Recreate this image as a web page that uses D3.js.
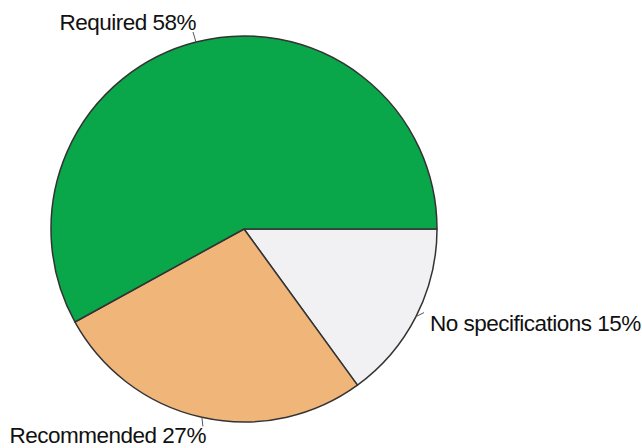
<!DOCTYPE html>
<html>
<head>
<meta charset="utf-8">
<script src="https://cdn.jsdelivr.net/npm/d3@7"></script>
<style>
  body { margin: 0; background: #fff; }
  svg text { font-family: "Liberation Sans", Arial, sans-serif; fill: #111; }
</style>
</head>
<body>
<svg id="chart" width="642" height="448"></svg>
<script>
// data (drawn clockwise starting from 3 o'clock)
var categories = ["No specifications", "Recommended", "Required"];
var shares = [15, 27, 58];
var colors = ["#f1f1f3", "#efb579", "#0aa64a"];

var svg = d3.select("#chart"),
    cx = 244,
    cy = 229,
    radius = 193;

var data = categories.map(function (c, i) {
    return {name: c, value: shares[i], color: colors[i]};
});

var pie = d3.pie()
    .sort(null)
    .value(function (d) { return d.value; })
    .startAngle(Math.PI / 2)
    .endAngle(Math.PI / 2 + 2 * Math.PI);

var arc = d3.arc().innerRadius(0).outerRadius(radius);

var g = svg.append("g").attr("transform", "translate(" + cx + "," + cy + ")");

var arcs = pie(data);

g.selectAll("path.slice")
    .data(arcs)
    .enter().append("path")
    .attr("class", "slice")
    .attr("d", arc)
    .attr("fill", function (d) { return d.data.color; })
    .attr("stroke", "#333")
    .attr("stroke-width", 1.5)
    .attr("stroke-linejoin", "round");

// leader ticks + labels, offsets per label
var labelPos = {
    "Required": {dx: -3, dy: -10, tx: 0, ty: -12, anchor: "end"},
    "No specifications": {dx: 8, dy: -4, tx: 14, ty: 14, anchor: "start"},
    "Recommended": {dx: 1, dy: 9, tx: 4, ty: 26, anchor: "end"}
};

function midPoint(d, r) {
    var a = (d.startAngle + d.endAngle) / 2;
    return [Math.sin(a) * r, -Math.cos(a) * r];
}

arcs.forEach(function (d) {
    var p = midPoint(d, radius);
    var o = labelPos[d.data.name];
    g.append("line")
        .attr("x1", p[0]).attr("y1", p[1])
        .attr("x2", p[0] + o.dx).attr("y2", p[1] + o.dy)
        .attr("stroke", "#555")
        .attr("stroke-width", 1);
    g.append("text")
        .attr("x", p[0] + o.tx)
        .attr("y", p[1] + o.ty)
        .attr("text-anchor", o.anchor)
        .attr("font-size", 22.5)
        .attr("letter-spacing", -0.5)
        .text(d.data.name + " " + d.data.value + "%");
});
</script>
</body>
</html>
